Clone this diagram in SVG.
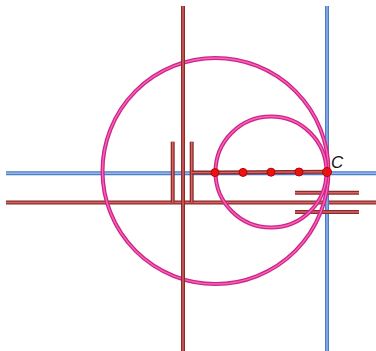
<svg xmlns="http://www.w3.org/2000/svg" width="376" height="351" viewBox="0 0 376 351">
<style>
.ro{stroke:#8a2a2a;stroke-width:4;fill:none}
.ri{stroke:#d86464;stroke-width:1.4;fill:none}
.bo{stroke:#4d7cc4;stroke-width:4;fill:none}
.bi{stroke:#94b8ee;stroke-width:1.4;fill:none}
.po{stroke:#c8287f;stroke-width:4;fill:none}
.pi{stroke:#ff5ec4;stroke-width:1.4;fill:none}
.pt{fill:#e81414;stroke:#c00000;stroke-width:1}
.lbl{font-family:"Liberation Sans",Arial,sans-serif;font-size:17px;font-style:italic;fill:#111}
</style>
<defs>
<path id="bh" d="M6,173.3H376"/>
<path id="bv" d="M327,6V351"/>
<path id="rv" d="M183,6V351"/>
<path id="rh" d="M6,202.5H376"/>
<path id="rs1" d="M172.7,141.7V202.5"/>
<path id="rs2" d="M191.7,141.7V202.5"/>
<path id="rh2" d="M295,192.7H359"/>
<path id="rh3" d="M295,212H359"/>
<path id="rseg" d="M191.7,172.6L215,172.6L327,171.8"/>
<circle id="cbig" cx="215.5" cy="171" r="113"/>
<circle id="csmall" cx="271" cy="172" r="55.5"/>
</defs>
<g id="lines">
<use href="#bh" class="bo"/><use href="#bh" class="bi"/>
<use href="#rh" class="ro"/><use href="#rh" class="ri"/>
<use href="#rs1" class="ro"/><use href="#rs1" class="ri"/>
<use href="#rs2" class="ro"/><use href="#rs2" class="ri"/>
<use href="#bv" class="bo"/><use href="#bv" class="bi"/>
<use href="#rh2" class="ro"/><use href="#rh2" class="ri"/>
<use href="#rh3" class="ro"/><use href="#rh3" class="ri"/>
</g>
<g id="circles">
<use href="#cbig" class="po"/><use href="#cbig" class="pi"/>
<use href="#csmall" class="po"/><use href="#csmall" class="pi"/>
</g>
<g id="lines-top">
<use href="#rv" class="ro"/><use href="#rv" class="ri"/>
<use href="#rseg" class="ro"/><use href="#rseg" class="ri"/>
</g>
<g id="points">
<circle class="pt" cx="215" cy="172.6" r="4"/>
<circle class="pt" cx="243" cy="172.4" r="4"/>
<circle class="pt" cx="271" cy="172.2" r="4"/>
<circle class="pt" cx="299" cy="172" r="4"/>
<circle class="pt" cx="327" cy="172" r="4.5"/>
</g>
<g id="label-C">
<text class="lbl" x="331" y="168">C</text>
</g>
</svg>
